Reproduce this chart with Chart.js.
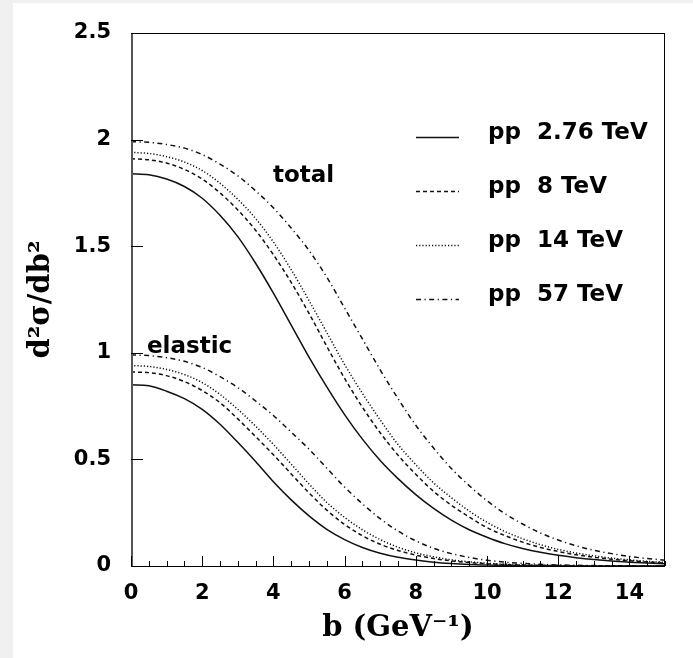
<!DOCTYPE html>
<html><head><meta charset="utf-8">
<script src="https://cdn.jsdelivr.net/npm/chart.js@4.4.1/dist/chart.umd.min.js"></script>
<style>
html,body{margin:0;padding:0;background:#f0f0f0;width:693px;height:658px;overflow:hidden}
#wrap{position:absolute;left:13px;top:3px;width:680px;height:655px;background:#fff}
canvas{display:block}
</style></head><body>
<div id="wrap"><canvas id="c" width="680" height="655"></canvas></div>
<script>
// impact parameter b (GeV^-1)
const bValues = [0,0.5,1,1.5,2,2.5,3,3.5,4,4.5,5,5.5,6,6.5,7,7.5,8,8.5,9,9.5,10,10.5,11,11.5,12,12.5,13,13.5,14,14.5,15];
// total profiles d2sigma/db2
const total276 = [1.84,1.835,1.815,1.78,1.725,1.645,1.545,1.42,1.28,1.13,0.98,0.84,0.71,0.595,0.495,0.41,0.335,0.27,0.215,0.17,0.135,0.105,0.082,0.064,0.05,0.039,0.03,0.023,0.018,0.014,0.011];
const total8   = [1.91,1.905,1.89,1.86,1.815,1.75,1.67,1.575,1.46,1.33,1.185,1.03,0.88,0.745,0.625,0.52,0.43,0.35,0.285,0.23,0.18,0.143,0.112,0.087,0.068,0.053,0.041,0.032,0.025,0.019,0.015];
const total14  = [1.94,1.935,1.92,1.895,1.855,1.795,1.72,1.63,1.52,1.39,1.245,1.095,0.945,0.81,0.685,0.57,0.475,0.39,0.32,0.258,0.205,0.162,0.128,0.1,0.078,0.061,0.048,0.037,0.029,0.022,0.017];
const total57  = [1.99,1.987,1.977,1.96,1.93,1.885,1.83,1.76,1.68,1.585,1.48,1.355,1.21,1.065,0.92,0.785,0.66,0.553,0.457,0.377,0.306,0.246,0.197,0.155,0.122,0.095,0.074,0.058,0.045,0.035,0.027];
// elastic profiles
const elastic276 = [0.85,0.845,0.82,0.785,0.735,0.665,0.58,0.49,0.395,0.31,0.235,0.172,0.124,0.087,0.06,0.041,0.028,0.018,0.0115,0.0072,0.0046,0.0028,0.0017,0.001,0.0006,0.0004,0.0003,0.0002,0.0001,0.0001,0.0001];
const elastic8   = [0.91,0.907,0.893,0.865,0.823,0.766,0.69,0.607,0.522,0.432,0.343,0.262,0.195,0.142,0.102,0.073,0.051,0.035,0.024,0.016,0.0105,0.0068,0.0044,0.0028,0.0018,0.0011,0.0007,0.0005,0.0003,0.0002,0.0001];
const elastic14  = [0.94,0.936,0.922,0.898,0.86,0.805,0.735,0.656,0.57,0.478,0.385,0.298,0.228,0.17,0.124,0.088,0.062,0.043,0.029,0.0195,0.013,0.0085,0.0055,0.0035,0.0022,0.0014,0.0009,0.0006,0.0004,0.0002,0.0001];
const elastic57  = [0.99,0.987,0.977,0.96,0.931,0.888,0.837,0.774,0.706,0.628,0.548,0.459,0.37,0.292,0.222,0.164,0.118,0.083,0.058,0.04,0.027,0.018,0.012,0.0078,0.005,0.0032,0.002,0.0013,0.0008,0.0005,0.0003];

const legendLabels = ['pp  2.76 TeV','pp  8 TeV','pp  14 TeV','pp  57 TeV'];
const xTickValues = [0,2,4,6,8,10,12,14];
const yTickValues = [0,0.5,1,1.5,2,2.5];
const xMinorStep = 0.5;
const curveLabels = [{text:'total', b:3.99, v:1.80},{text:'elastic', b:0.45, v:1.0}];

const dashes = [[], [4,3], [1.2,2], [5,3.5,1.2,3.5]];
const toPts = arr => bValues.map((b,i)=>({x:b,y:arr[i]}));
const totals = [total276,total8,total14,total57];
const elastics = [elastic276,elastic8,elastic14,elastic57];
const datasets = [];
totals.forEach((arr,i)=>datasets.push({label:legendLabels[i]+' total',data:toPts(arr),borderDash:dashes[i]}));
elastics.forEach((arr,i)=>datasets.push({label:legendLabels[i]+' elastic',data:toPts(arr),borderDash:dashes[i]}));
datasets.forEach(d=>{Object.assign(d,{borderColor:'#111',borderWidth:1.5,pointRadius:0,fill:false,cubicInterpolationMode:'monotone'});});

const tickFont = {family:'DejaVu Sans', weight:'bold', size:21};
const textFont = 'bold 23px "DejaVu Sans"';

const decor = {
  id:'decor',
  afterDatasetsDraw(chart){
    const {ctx, chartArea:a, scales:{x, y}} = chart;
    ctx.save();
    ctx.strokeStyle = '#000';
    ctx.lineWidth = 1;
    ctx.setLineDash([]);
    ctx.strokeRect(Math.round(a.left)+0.5, Math.round(a.top)+0.5, Math.round(a.right-a.left)-1, Math.round(a.bottom-a.top));
    ctx.strokeStyle = '#555'; ctx.lineWidth = 2;
    ctx.beginPath(); ctx.moveTo(Math.round(a.left)+1, a.top); ctx.lineTo(Math.round(a.left)+1, a.bottom); ctx.stroke();
    ctx.strokeStyle = '#000'; ctx.lineWidth = 1;
    ctx.beginPath();
    yTickValues.forEach(v=>{const py=Math.round(y.getPixelForValue(v))+0.5; ctx.moveTo(a.left, py); ctx.lineTo(a.left+12, py);});
    for (let v=0; v<=x.max+1e-9; v+=xMinorStep){
      const px = Math.round(x.getPixelForValue(v))+0.5;
      const len = xTickValues.includes(v) ? 10 : 5;
      ctx.moveTo(px, a.bottom); ctx.lineTo(px, a.bottom-len);
    }
    ctx.stroke();
    // legend
    ctx.font = textFont; ctx.fillStyle = '#000'; ctx.textBaseline = 'alphabetic';
    for (let i=0;i<4;i++){
      const ds = chart.data.datasets[i];
      const yy = 136 + i*54;
      ctx.setLineDash(ds.borderDash); ctx.lineWidth = 1.5; ctx.strokeStyle = ds.borderColor;
      ctx.beginPath(); ctx.moveTo(403, yy-1.5); ctx.lineTo(446, yy-1.5); ctx.stroke();
      ctx.setLineDash([]);
      ctx.fillText(legendLabels[i], 475, yy);
    }
    curveLabels.forEach(l=>{ ctx.fillText(l.text, x.getPixelForValue(l.b), y.getPixelForValue(l.v)); });
    ctx.restore();
  }
};

new Chart(document.getElementById('c'), {
  type:'line',
  data:{datasets},
  options:{
    responsive:false, animation:false, devicePixelRatio:1,
    layout:{padding:{left:0,right:28,top:30,bottom:0}},
    plugins:{legend:{display:false}, tooltip:{enabled:false}},
    scales:{
      x:{type:'linear', min:0, max:15,
        grid:{display:false}, border:{display:false},
        ticks:{font:tickFont, color:'#000', padding:7, maxRotation:0, autoSkip:false, callback:v=>String(v)},
        afterBuildTicks:s=>{s.ticks = xTickValues.map(v=>({value:v}));},
        afterFit:s=>{s.height = 92;},
        title:{display:true, text:'b (GeV\u207B\u00B9)', color:'#000', font:{family:'DejaVu Serif', weight:'bold', size:29}, padding:{top:0,bottom:12}}
      },
      y:{type:'linear', min:0, max:2.5,
        grid:{display:false}, border:{display:false},
        ticks:{font:tickFont, color:'#000', padding:12, autoSkip:false, callback:v=>String(v)},
        afterBuildTicks:s=>{s.ticks = yTickValues.map(v=>({value:v}));},
        afterFit:s=>{s.width = 118;},
        title:{display:true, text:'d\u00B2\u03C3/db\u00B2', color:'#000', font:{family:'DejaVu Serif', weight:'bold', size:29}, padding:{top:11,bottom:0}}
      }
    }
  },
  plugins:[decor]
});
</script>
</body></html>
